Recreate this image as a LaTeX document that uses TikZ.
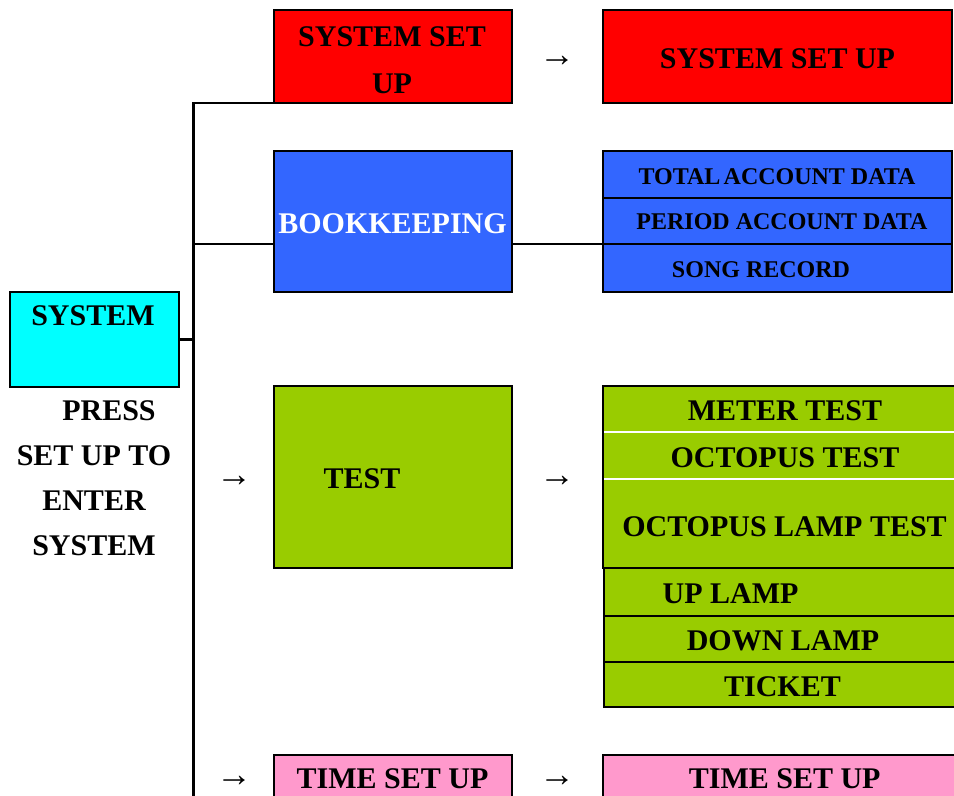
\documentclass[tikz,border=0pt]{standalone}
\usepackage{fontspec}
\setmainfont{Liberation Serif}
\definecolor{cyanbox}{RGB}{0,255,255}
\definecolor{redbox}{RGB}{255,0,0}
\definecolor{bluebox}{RGB}{51,102,255}
\definecolor{greenbox}{RGB}{153,204,0}
\definecolor{pinkbox}{RGB}{255,153,204}
\tikzset{
  box/.style={draw=black, line width=2pt, inner sep=0pt, outer sep=0pt},
  rowbox/.style={draw=black, line width=1.4pt, inner sep=0pt, outer sep=0pt},
  big/.style={font=\fontsize{22.5}{27}\selectfont\bfseries, inner sep=0pt, outer sep=0pt, anchor=base},
  bigml/.style={inner sep=0pt, outer sep=0pt, align=center},
  small/.style={font=\fontsize{18}{21}\selectfont\bfseries, inner sep=0pt, outer sep=0pt, anchor=base},
  arr/.style={font=\fontsize{27}{30}\selectfont, inner sep=0pt, outer sep=0pt},
  link/.style={draw=black, line width=1.6pt},
  thinlink/.style={draw=black, line width=1pt},
}
\begin{document}
\begin{tikzpicture}[x=0.75pt, y=-0.75pt]
\useasboundingbox (0,0) rectangle (954,796);
\clip (0,0) rectangle (954,796);

% left column
\node[box, fill=cyanbox, minimum width=126.75pt, minimum height=71.25pt] (sysbox) at (94.5,339.5) {};
\node[big] (tsys) at (93,325) {SYSTEM};
\node[bigml, font=\fontsize{22.5}{33.75}\selectfont\bfseries] (tpress) at (94,478.5)
  {\hspace*{22.5pt}PRESS\\SET UP TO\\ENTER\\SYSTEM};

% middle column
\node[box, fill=redbox, minimum width=178.5pt, minimum height=69.75pt] (setupL) at (393,56.5) {};
\node[bigml, font=\fontsize{22.5}{35.25}\selectfont\bfseries] (tsetupL) at (392,60) {SYSTEM SET\\UP};
\node[box, fill=bluebox, minimum width=178.5pt, minimum height=105.75pt] (bookL) at (393,221.5) {};
\node[big, text=white] (tbook) at (392.5,233) {BOOKKEEPING};
\node[box, fill=greenbox, minimum width=178.5pt, minimum height=136.5pt] (testL) at (393,477) {};
\node[big] (ttest) at (362,488) {TEST};
\node[box, fill=pinkbox, minimum width=178.5pt, minimum height=56.25pt] (timeL) at (393,792.5) {};
\node[big] (ttimeL) at (392.5,788) {TIME SET UP};

% arrows
\node[arr] (a1) at (234,481) {→};
\node[arr] (a2) at (234,781) {→};
\node[arr] (a3) at (557,61) {→};
\node[arr] (a4) at (557,481) {→};
\node[arr] (a5) at (557,781) {→};

% right column
\node[box, fill=redbox, minimum width=261.75pt, minimum height=69.75pt] (setupR) at (777.5,56.5) {};
\node[big] (tsetupR) at (777.5,68) {SYSTEM SET UP};

\node[rowbox, fill=bluebox, minimum width=261.75pt, minimum height=35.25pt] (acc1) at (777.5,174.5) {};
\node[rowbox, fill=bluebox, minimum width=261.75pt, minimum height=34.5pt] (acc2) at (777.5,221) {};
\node[rowbox, fill=bluebox, minimum width=261.75pt, minimum height=36pt] (acc3) at (777.5,268) {};
\node[small] (tacc1) at (777,184.5) {TOTAL\kern-2pt\ ACCOUNT DATA};
\node[small] (tacc2) at (782,229.5) {PERIOD ACCOUNT DATA};
\node[small] (tacc3) at (761,277.5) {SONG RECORD};

\node[rowbox, fill=greenbox, minimum width=275.25pt, minimum height=34.5pt] (meter) at (786.5,409) {};
\node[rowbox, fill=greenbox, minimum width=275.25pt, minimum height=35.25pt] (octo) at (786.5,455.5) {};
\node[rowbox, fill=greenbox, minimum width=275.25pt, minimum height=66.75pt] (lamp) at (786.5,523.5) {};
\draw[white, line width=1.8pt] ([xshift=1pt]meter.south west) -- (meter.south east);
\draw[white, line width=1.8pt] ([xshift=1pt]octo.south west) -- (octo.south east);
\node[big] (tmeter) at (785,420) {METER TEST};
\node[big] (tocto) at (785,467) {OCTOPUS TEST};
\node[big] (tlamp) at (784.5,536) {OCTOPUS LAMP TEST};

\node[rowbox, fill=greenbox, minimum width=274.5pt, minimum height=36pt] (up) at (787,592) {};
\node[rowbox, fill=greenbox, minimum width=274.5pt, minimum height=34.5pt] (down) at (787,639) {};
\node[rowbox, fill=greenbox, minimum width=274.5pt, minimum height=33.75pt] (ticket) at (787,684.5) {};
\node[big] (tup) at (730.5,603) {UP LAMP};
\node[big] (tdown) at (783,650) {DOWN LAMP};
\node[big] (tticket) at (782.5,696) {TICKET};

\node[box, fill=pinkbox, minimum width=275.25pt, minimum height=56.25pt] (timeR) at (786.5,792.5) {};
\node[big] (ttimeR) at (784.7,788) {TIME SET UP};

% connectors
\coordinate (trunkbot) at (193.5,800);
\draw[link] (setupL.south west) -| (trunkbot);
\draw[link] (bookL.west |- acc3.north) -- (trunkbot |- acc3.north);
\draw[link] (sysbox.east) -- (trunkbot |- sysbox.east);
\draw[thinlink] (bookL.east |- acc3.north) -- (acc3.north west);
\end{tikzpicture}
\end{document}
